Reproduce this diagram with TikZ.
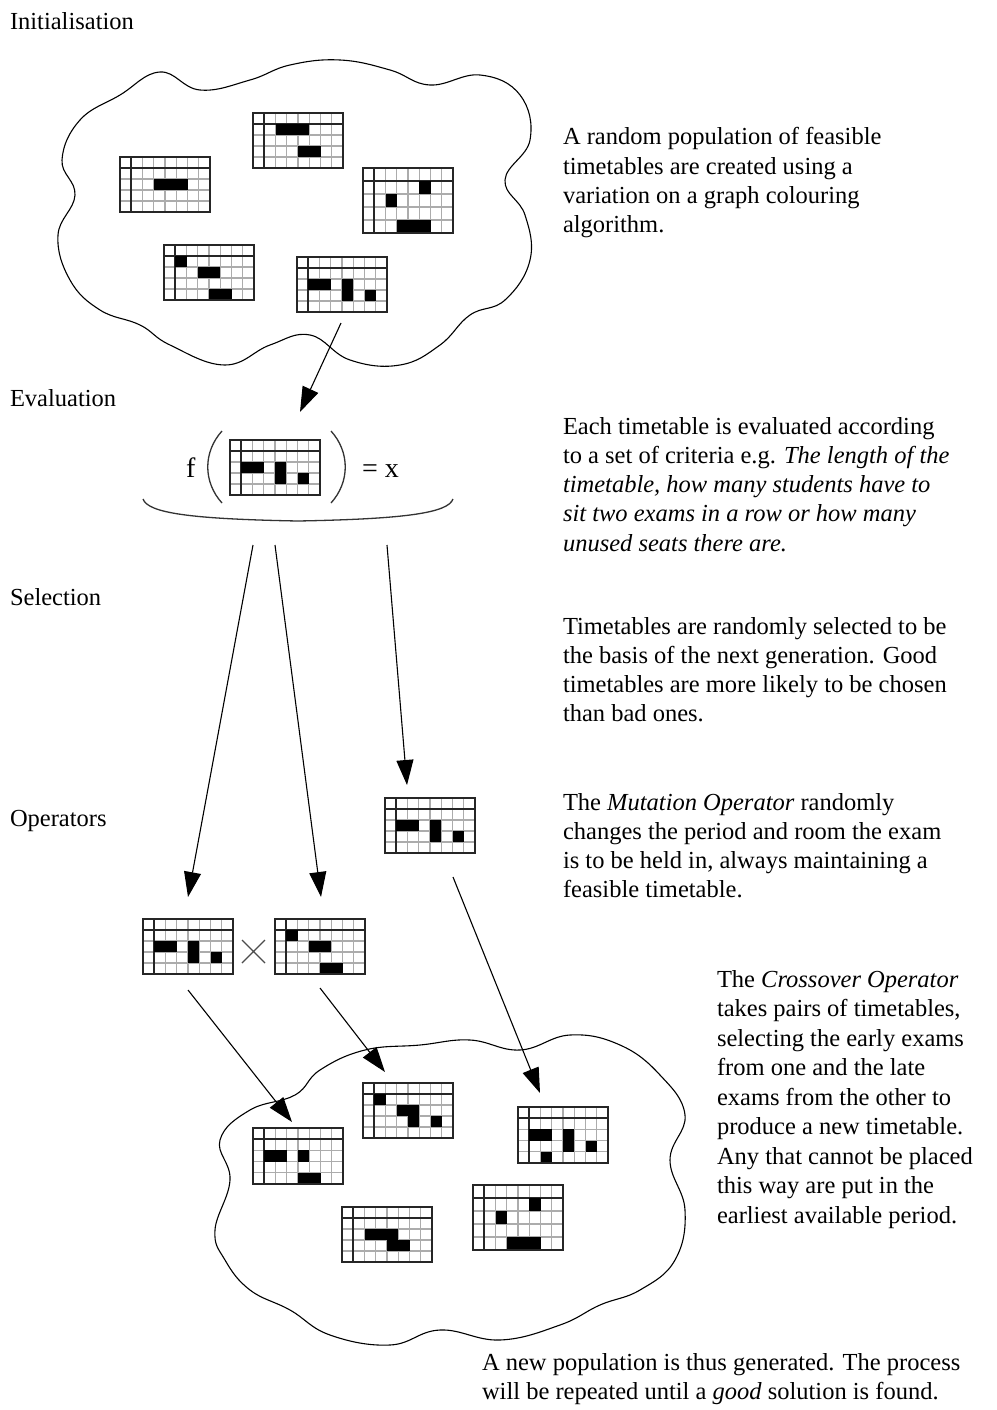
\documentclass[tikz,border=0pt]{standalone}
\usepackage{fontspec}
\setmainfont{Liberation Serif}
\usetikzlibrary{arrows.meta}
\tikzset{
 txt/.style={font=\fontsize{24.5}{29}\selectfont, anchor=base west, inner sep=0pt, outer sep=0pt},
 bigtxt/.style={font=\fontsize{28}{32}\selectfont, anchor=base west, inner sep=0pt, outer sep=0pt},
 gthin/.style={draw=gray!65, line width=1.1pt},
 gthick/.style={draw=gray!30!black, line width=1.7pt},
 gbox/.style={draw=gray!30!black, line width=1.4pt, minimum width=90pt, inner sep=0pt, outer sep=0pt},
 arr/.style={draw=black, line width=1.1pt, -{Triangle[length=25pt,width=17pt]}},
 cloudline/.style={draw=black, line width=1.1pt},
 thinline/.style={draw=black!80, line width=1.3pt},
}
\newcommand{\ttab}[5]{%
 \begin{scope}[shift={(#2,#3)}]
  \foreach \i in {2,...,7} \draw[gthin] (\i*11.25,0) -- (\i*11.25,#4);
  \foreach \j in {2,3,4} \draw[gthin] (0,\j*#4/5) -- (90,\j*#4/5);
  \draw[gthick] (11.25,0) -- (11.25,#4);
  \draw[gthick] (0,#4/5) -- (90,#4/5);
  \foreach \c/\r/\nc/\nr in {#5} \fill[black] (\c*11.25,\r*#4/5) rectangle ++(\nc*11.25,\nr*#4/5);
  \node[gbox, minimum height=#4pt] (#1) at (45,#4/2) {};
 \end{scope}}
\begin{document}
\begin{tikzpicture}[x=1pt,y=-1pt]
\useasboundingbox (0,0) rectangle (996,1410);
\fill[white] (0,0) rectangle (996,1410);

% clouds
\draw[cloudline] plot[smooth cycle, tension=0.7] coordinates {
(58,235) (75,195) (62,160) (80,120) (120,95) (160,72) (200,90) (250,80) (290,65) (340,60) (390,70) (430,85) (480,75) (520,95) (530,140) (505,180) (525,215) (530,260) (505,300) (470,315) (440,345) (400,365) (350,360) (310,335) (270,345) (225,365) (170,345) (140,325) (100,310) (70,280)};
\draw[cloudline] plot[smooth cycle, tension=0.7] coordinates {
(215,1230) (230,1180) (220,1140) (250,1110) (295,1095) (320,1070) (365,1050) (420,1045) (470,1040) (520,1050) (570,1035) (620,1045) (660,1075) (685,1115) (670,1160) (685,1210) (675,1260) (640,1290) (600,1305) (560,1325) (500,1340) (440,1330) (390,1345) (330,1335) (290,1310) (250,1290) (225,1260)};

% timetables
\ttab{g1}{120}{157}{55}{3/2/3/1}
\ttab{g2}{253}{113}{55}{2/1/3/1, 4/3/2/1}
\ttab{g3}{363}{168}{65}{5/1/1/1, 2/2/1/1, 3/4/3/1}
\ttab{g4}{164}{245}{55}{1/1/1/1, 3/2/2/1, 4/4/2/1}
\ttab{g5}{297}{257}{55}{1/2/2/1, 4/2/1/2, 6/3/1/1}
\ttab{ge}{230}{440}{55}{1/2/2/1, 4/2/1/2, 6/3/1/1}
\ttab{gm}{385}{798}{55}{1/2/2/1, 4/2/1/2, 6/3/1/1}
\ttab{gl}{143}{919}{55}{1/2/2/1, 4/2/1/2, 6/3/1/1}
\ttab{gr}{275}{919}{55}{1/1/1/1, 3/2/2/1, 4/4/2/1}
\ttab{g9}{253}{1128}{56}{1/2/2/1, 4/2/1/1, 4/4/2/1}
\ttab{g10}{363}{1083}{55}{1/1/1/1, 3/2/2/1, 4/3/1/1, 6/3/1/1}
\ttab{g11}{518}{1107}{56}{1/2/2/1, 4/2/1/2, 6/3/1/1, 2/4/1/1}
\ttab{g12}{342}{1207}{55}{2/2/3/1, 4/3/2/1}
\ttab{g13}{473}{1185}{65}{5/1/1/1, 2/2/1/1, 3/4/3/1}

% evaluation formula
\node[bigtxt] (fsym) at (186,477) {f};
\draw[thinline] (222,431) .. controls (203,452) and (203,482) .. (222,503);
\draw[thinline] (331,431) .. controls (350,452) and (350,482) .. (331,503);
\node[bigtxt] (eqx) at (362,477) {= x};
\draw[thinline] (143,499) .. controls (148,513) and (190,519) .. (298,521) .. controls (405,519) and (448,513) .. (453,499);

% crossover sign
\coordinate (xa) at (242,940);
\coordinate (xb) at (265,963);
\coordinate (xc) at (242,963);
\coordinate (xd) at (265,940);
\draw[draw=gray!60!black, line width=1.1pt] (xa) -- (xb) (xc) -- (xd);

% arrows
\coordinate (a1s) at (341,323); \coordinate (a1e) at (300,412);
\coordinate (a2s) at (253,545); \coordinate (a2e) at (188,897);
\coordinate (a3s) at (275,545); \coordinate (a3e) at (321,897);
\coordinate (a4s) at (387,545); \coordinate (a4e) at (407,785);
\coordinate (a5s) at (453,877); \coordinate (a5e) at (540,1093);
\coordinate (a6s) at (188,990); \coordinate (a6e) at (292,1122);
\coordinate (a7s) at (320,988); \coordinate (a7e) at (385,1072);
\draw[arr] (a1s) -- (a1e);
\draw[arr] (a2s) -- (a2e);
\draw[arr] (a3s) -- (a3e);
\draw[arr] (a4s) -- (a4e);
\draw[arr] (a5s) -- (a5e);
\draw[arr] (a6s) -- (a6e);
\draw[arr] (a7s) -- (a7e);

% left labels
\node[txt] (linit) at (10,30) {Initialisation};
\node[txt] (leval) at (10,406) {Evaluation};
\node[txt] (lsel) at (10,605) {Selection};
\node[txt] (lop) at (10,826) {Operators};

% texts
\foreach \t [count=\i] in {{A random population of feasible},{timetables are created using a},{variation on a graph colouring},{algorithm.}}
  \node[txt] (ti\i) at (563,145+\i*29.3-29.3) {\t};
\foreach \t [count=\i] in {{Each timetable is evaluated according},{to a set of criteria e.g. \textit{The length of the}},{\textit{timetable, how many students have to}},{\textit{sit two exams in a row or how many}},{\textit{unused seats there are.}}}
  \node[txt] (te\i) at (563,434+\i*29.3-29.3) {\t};
\foreach \t [count=\i] in {{Timetables are randomly selected to be},{the basis of the next generation. Good},{timetables are more likely to be chosen},{than bad ones.}}
  \node[txt] (ts\i) at (563,634+\i*29.3-29.3) {\t};
\foreach \t [count=\i] in {{The \textit{Mutation Operator} randomly},{changes the period and room the exam},{is to be held in, always maintaining a},{feasible timetable.}}
  \node[txt] (tm\i) at (563,810+\i*29.3-29.3) {\t};
\foreach \t [count=\i] in {{The \textit{Crossover Operator}},{takes pairs of timetables,},{selecting the early exams},{from one and the late},{exams from the other to},{produce a new timetable.},{Any that cannot be placed},{this way are put in the},{earliest available period.}}
  \node[txt] (tc\i) at (717,987+\i*29.5-29.5) {\t};
\node[txt] (tb1) at (482,1370) {A new population is thus generated. The process};
\node[txt] (tb2) at (482,1399.3) {will be repeated until a \textit{good} solution is found.};
\end{tikzpicture}
\end{document}
